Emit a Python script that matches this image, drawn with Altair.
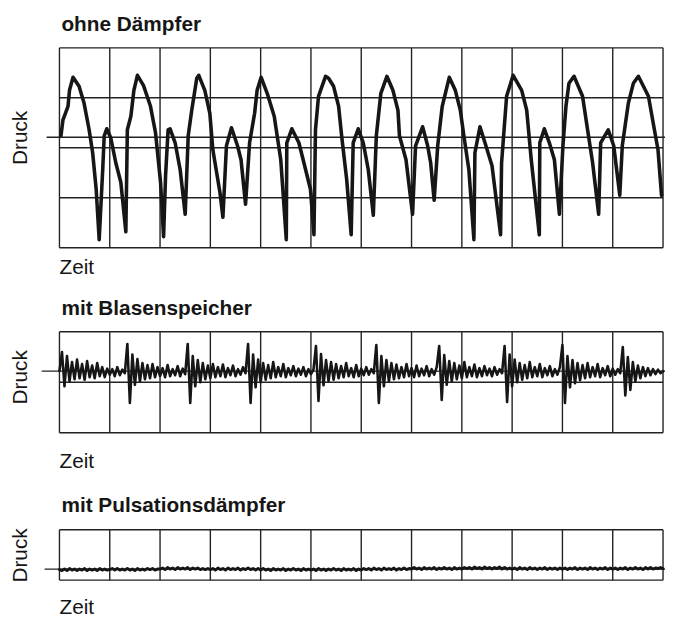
import altair as alt
import pandas as pd

# ---------------- texts ----------------
panel_titles = ["ohne Dämpfer", "mit Blasenspeicher", "mit Pulsationsdämpfer"]
x_label = "Zeit"
y_label = "Druck"

# ---------------- grid (in divisions) ----------------
time_grid = list(range(13))          # 12 time divisions
p1_grid = [0, 1, 2, 3, 4]
p2_grid = [0, 1, 2]
p3_grid = [0, 1]

# reference (zero-pressure) lines, in grid units from the bottom of each box
p1_ref = [2.21]
p2_ref = [1.22]
p3_ref = [0.22]

# ---------------- panel 1: ohne Dämpfer (time, pressure) ----------------
p1_t = [0.03, 0.07, 0.17, 0.20, 0.27, 0.39, 0.49, 0.59, 0.66, 0.73, 0.79, 0.86, 0.89, 0.94,
        1.02, 1.12, 1.22, 1.32, 1.35, 1.42, 1.48, 1.55, 1.67, 1.81, 1.91, 2.01, 2.07, 2.11,
        2.16, 2.20, 2.30, 2.40, 2.50, 2.56, 2.63, 2.73, 2.77, 2.89, 2.99, 3.05, 3.19, 3.25,
        3.32, 3.42, 3.54, 3.61, 3.70, 3.78, 3.88, 3.93, 4.01, 4.13, 4.27, 4.40, 4.51, 4.52,
        4.62, 4.76, 4.86, 4.99, 5.06, 5.09, 5.15, 5.29, 5.35, 5.45, 5.55, 5.61, 5.71, 5.80,
        5.84, 5.94, 6.04, 6.14, 6.24, 6.30, 6.39, 6.51, 6.63, 6.73, 6.76, 6.89, 7.02, 7.08,
        7.22, 7.32, 7.38, 7.45, 7.52, 7.61, 7.75, 7.87, 7.97, 8.04, 8.14, 8.24, 8.26, 8.36,
        8.46, 8.60, 8.77, 8.79, 8.89, 9.02, 9.19, 9.29, 9.38, 9.54, 9.55, 9.64, 9.74, 9.84,
        9.94, 10.01, 10.07, 10.13, 10.23, 10.40, 10.50, 10.60, 10.72, 10.76, 10.91, 11.02,
        11.14, 11.19, 11.31, 11.41, 11.51, 11.71, 11.85, 11.90, 11.97]
p1_p = [2.24, 2.56, 2.83, 3.15, 3.41, 3.23, 2.89, 2.36, 1.90, 1.17, 0.16, 1.56, 2.24, 2.38,
        2.20, 1.70, 1.31, 0.32, 2.36, 2.63, 3.15, 3.45, 3.25, 2.83, 2.30, 1.31, 0.22, 1.45,
        2.36, 2.38, 2.10, 1.56, 0.67, 2.24, 2.75, 3.39, 3.45, 3.15, 2.69, 1.96, 1.11, 0.61,
        2.04, 2.40, 2.04, 1.76, 0.87, 2.10, 2.69, 3.15, 3.41, 3.09, 2.63, 1.76, 0.16, 2.10,
        2.38, 2.10, 1.70, 1.17, 0.26, 2.36, 3.03, 3.43, 3.39, 3.23, 2.83, 2.24, 1.37, 0.26,
        2.10, 2.38, 2.10, 1.56, 0.65, 2.24, 3.09, 3.43, 3.15, 2.75, 2.24, 1.76, 0.67, 2.04,
        2.42, 2.04, 1.70, 0.95, 2.04, 2.83, 3.41, 3.15, 2.75, 2.24, 1.56, 0.16, 1.90, 2.42,
        2.10, 1.64, 0.26, 1.70, 3.03, 3.45, 3.15, 2.75, 1.76, 0.26, 2.10, 2.38, 2.10, 1.76,
        0.67, 2.04, 2.83, 3.29, 3.43, 3.03, 2.36, 1.70, 0.67, 2.10, 2.36, 2.04,
        1.05, 2.04, 2.89, 3.29, 3.43, 3.03, 2.24, 1.96, 1.05]

# ---------------- panels 2 and 3: sampled traces ----------------
sample_step = 0.05   # time between samples (divisions)

p2_p = [
    1.22, 1.60, 0.92, 1.52, 1.02, 1.40, 1.06, 1.45, 1.08, 1.36, 1.05, 1.42, 1.10, 1.33, 1.08, 1.38, 1.12, 1.30, 1.10, 1.27,
    1.15, 1.26, 1.12, 1.30, 1.14, 1.25, 1.18, 1.76, 0.59, 1.55, 0.95, 1.46, 1.02, 1.38, 1.06, 1.34, 1.08, 1.36, 1.10, 1.30,
    1.12, 1.28, 1.10, 1.34, 1.12, 1.26, 1.14, 1.32, 1.12, 1.27, 1.16, 1.76, 0.59, 1.52, 0.92, 1.44, 1.00, 1.38, 1.06, 1.33,
    1.08, 1.36, 1.10, 1.30, 1.12, 1.35, 1.10, 1.28, 1.14, 1.33, 1.12, 1.26, 1.15, 1.30, 1.18, 1.76, 0.59, 1.55, 0.90, 1.45,
    1.00, 1.38, 1.05, 1.34, 1.08, 1.40, 1.10, 1.30, 1.12, 1.36, 1.10, 1.28, 1.14, 1.32, 1.12, 1.27, 1.15, 1.30, 1.12, 1.26,
    1.16, 1.25, 1.72, 0.63, 1.56, 0.94, 1.44, 1.02, 1.40, 1.05, 1.36, 1.08, 1.32, 1.10, 1.38, 1.12, 1.28, 1.10, 1.34, 1.12,
    1.27, 1.14, 1.30, 1.15, 1.26, 1.18, 1.74, 0.59, 1.52, 0.92, 1.44, 1.02, 1.38, 1.06, 1.35, 1.08, 1.30, 1.10, 1.36, 1.12,
    1.28, 1.10, 1.33, 1.12, 1.27, 1.14, 1.32, 1.12, 1.26, 1.15, 1.30, 1.72, 0.65, 1.54, 0.95, 1.42, 1.02, 1.38, 1.06, 1.33,
    1.08, 1.40, 1.10, 1.30, 1.12, 1.35, 1.10, 1.28, 1.12, 1.32, 1.14, 1.27, 1.12, 1.30, 1.15, 1.26, 1.18, 1.72, 0.61, 1.55,
    0.92, 1.45, 1.00, 1.38, 1.05, 1.34, 1.08, 1.40, 1.10, 1.30, 1.12, 1.36, 1.10, 1.28, 1.14, 1.32, 1.12, 1.26, 1.15, 1.30,
    1.74, 0.59, 1.52, 0.90, 1.44, 0.98, 1.38, 1.04, 1.34, 1.08, 1.38, 1.10, 1.30, 1.12, 1.36, 1.10, 1.28, 1.14, 1.32, 1.12,
    1.27, 1.15, 1.26, 1.18, 1.70, 0.74, 1.50, 0.85, 1.40, 1.02, 1.33, 1.08, 1.30, 1.12, 1.28, 1.14, 1.26, 1.16, 1.25, 1.18, 1.22,
]

p3_p = [
    0.21, 0.19, 0.22, 0.19, 0.23, 0.20, 0.22, 0.19, 0.22, 0.20, 0.23, 0.19, 0.22, 0.20, 0.22, 0.19, 0.23, 0.20, 0.22, 0.20,
    0.21, 0.23, 0.20, 0.23, 0.20, 0.22, 0.20, 0.23, 0.20, 0.22, 0.19, 0.23, 0.20, 0.22, 0.20, 0.23, 0.21, 0.23, 0.20, 0.22,
    0.22, 0.24, 0.21, 0.25, 0.22, 0.24, 0.21, 0.25, 0.22, 0.24, 0.22, 0.25, 0.21, 0.24, 0.22, 0.24, 0.21, 0.23, 0.21, 0.23,
    0.21, 0.23, 0.20, 0.24, 0.21, 0.23, 0.20, 0.24, 0.21, 0.23, 0.21, 0.24, 0.20, 0.23, 0.21, 0.24, 0.21, 0.23, 0.20, 0.23,
    0.20, 0.23, 0.20, 0.22, 0.19, 0.23, 0.20, 0.22, 0.20, 0.23, 0.19, 0.22, 0.20, 0.23, 0.20, 0.22, 0.19, 0.23, 0.20, 0.22,
    0.20, 0.22, 0.19, 0.23, 0.20, 0.22, 0.19, 0.22, 0.20, 0.23, 0.20, 0.22, 0.19, 0.23, 0.20, 0.22, 0.20, 0.23, 0.19, 0.22,
    0.20, 0.23, 0.21, 0.23, 0.20, 0.24, 0.21, 0.23, 0.20, 0.24, 0.21, 0.23, 0.21, 0.24, 0.20, 0.23, 0.21, 0.24, 0.21, 0.23,
    0.22, 0.25, 0.22, 0.24, 0.21, 0.25, 0.22, 0.24, 0.22, 0.25, 0.21, 0.24, 0.22, 0.25, 0.22, 0.24, 0.21, 0.25, 0.22, 0.24,
    0.22, 0.25, 0.23, 0.25, 0.22, 0.26, 0.23, 0.25, 0.22, 0.26, 0.23, 0.25, 0.22, 0.25, 0.23, 0.26, 0.22, 0.25, 0.22, 0.24,
    0.22, 0.24, 0.21, 0.25, 0.22, 0.24, 0.21, 0.25, 0.22, 0.24, 0.21, 0.24, 0.22, 0.25, 0.21, 0.24, 0.22, 0.24, 0.21, 0.24,
    0.22, 0.24, 0.21, 0.24, 0.22, 0.25, 0.21, 0.24, 0.22, 0.24, 0.21, 0.25, 0.22, 0.24, 0.21, 0.24, 0.22, 0.25, 0.21, 0.24,
    0.22, 0.24, 0.21, 0.24, 0.22, 0.25, 0.21, 0.24, 0.22, 0.25, 0.22, 0.24, 0.21, 0.25, 0.22, 0.25, 0.22, 0.24, 0.23, 0.25, 0.23,
]

# ---------------- styling ----------------
FONT = "Liberation Sans, Arial, Helvetica, sans-serif"
INK = "#161616"
GRID = "#222222"
PANEL_W = 610
TITLE_SIZE = 21
LABEL_SIZE = 21


def make_panel(title, trace, grid_rows, ref, box_h, plot_h, ref_left,
               trace_w, zeit_y, druck_y):
    y_max = grid_rows[-1]
    xs = alt.Scale(domain=[0, 12], nice=False, zero=False)
    ys = alt.Scale(domain=[0, y_max], range=[box_h, 0], nice=False, zero=False)

    vgrid = alt.Chart(pd.DataFrame({"t": time_grid})).mark_rule(
        color=GRID, strokeWidth=1.4
    ).encode(
        x=alt.X("t:Q", scale=xs, axis=None),
        y=alt.Y(datum=0, scale=ys, axis=None),
        y2=alt.Y2(datum=y_max),
    )
    hgrid = alt.Chart(pd.DataFrame({"p": grid_rows})).mark_rule(
        color=GRID, strokeWidth=1.4
    ).encode(
        y=alt.Y("p:Q", scale=ys, axis=None),
        x=alt.X(datum=0, scale=xs, axis=None),
        x2=alt.X2(datum=12),
    )
    refline = alt.Chart(pd.DataFrame({"p": ref})).mark_rule(
        color=GRID, strokeWidth=1.4
    ).encode(
        y=alt.Y("p:Q", scale=ys, axis=None),
        x=alt.value(ref_left),
        x2=alt.value(612),
    )
    line = alt.Chart(trace).mark_line(
        color=INK, strokeWidth=trace_w, strokeJoin="round", strokeCap="round"
    ).encode(
        x=alt.X("t:Q", scale=xs, axis=None),
        y=alt.Y("p:Q", scale=ys, axis=None),
        order="i:Q",
    )
    ttl = alt.Chart(pd.DataFrame({"label": [title]})).mark_text(
        align="left", baseline="alphabetic", font=FONT, fontSize=TITLE_SIZE,
        fontWeight="bold", color=INK
    ).encode(text="label:N", x=alt.value(2), y=alt.value(-17.5))
    zeit = alt.Chart(pd.DataFrame({"label": [x_label]})).mark_text(
        align="left", baseline="alphabetic", font=FONT, fontSize=LABEL_SIZE, color=INK
    ).encode(text="label:N", x=alt.value(0), y=alt.value(zeit_y))
    druck = alt.Chart(pd.DataFrame({"label": [y_label]})).mark_text(
        align="center", baseline="alphabetic", font=FONT, fontSize=LABEL_SIZE,
        color=INK, angle=270
    ).encode(text="label:N", x=alt.value(-33), y=alt.value(druck_y))

    return alt.layer(vgrid, hgrid, refline, line, ttl, zeit, druck).properties(
        width=PANEL_W, height=plot_h
    )


df1 = pd.DataFrame({"t": p1_t, "p": p1_p})
df1["i"] = range(len(df1))
df2 = pd.DataFrame({"p": p2_p})
df2["i"] = range(len(df2))
df2["t"] = df2["i"] * sample_step
df3 = pd.DataFrame({"p": p3_p})
df3["i"] = range(len(df3))
df3["t"] = df3["i"] * sample_step

c1 = make_panel(panel_titles[0], df1, p1_grid, p1_ref, 202, 202, -13, 3.6, 229, 91)
c2 = make_panel(panel_titles[1], df2, p2_grid, p2_ref, 102, 115, -18, 2.6, 138, 46)
c3 = make_panel(panel_titles[2], df3, p3_grid, p3_ref, 51, 51, -15, 3.0, 85, 26)

chart = alt.vconcat(c1, c2, c3, spacing=85, bounds="flush").properties(
    padding={"left": 1, "top": 2, "right": 0, "bottom": 0}
).configure_view(strokeWidth=0)

chart.save("out.html", embed_options={"renderer": "svg", "actions": False})
